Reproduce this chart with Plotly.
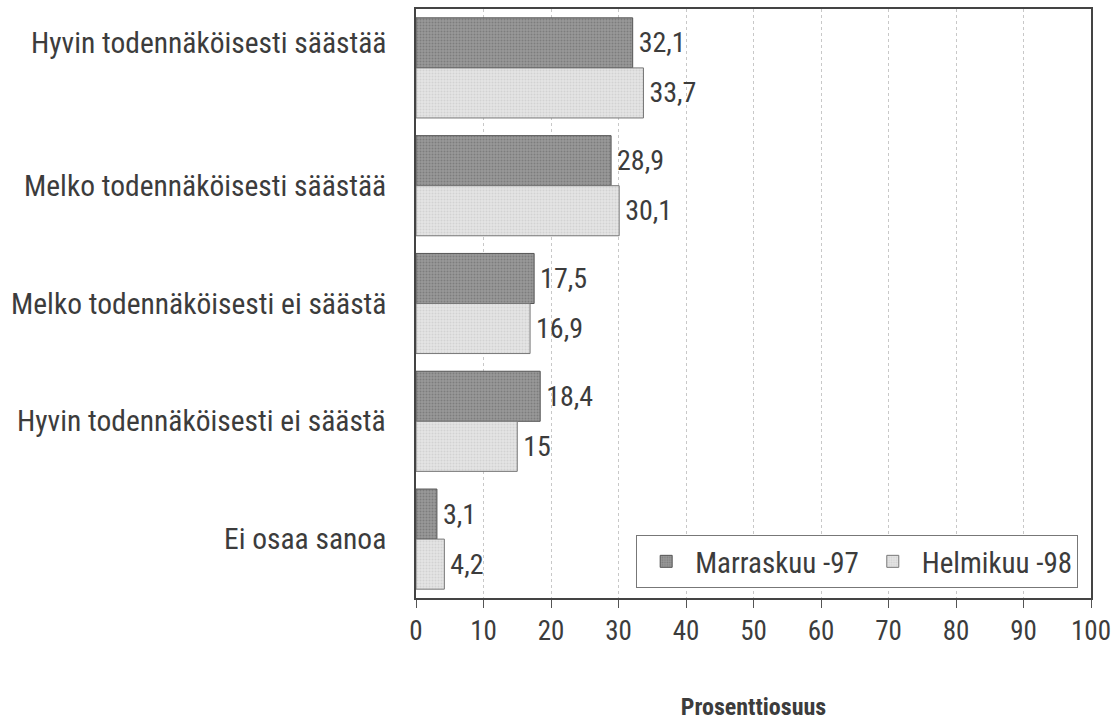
import plotly.graph_objects as go

# Survey answers (top to bottom) and shares in percent
categories = [
    "Hyvin todennäköisesti säästää",
    "Melko todennäköisesti säästää",
    "Melko todennäköisesti ei säästä",
    "Hyvin todennäköisesti ei säästä",
    "Ei osaa sanoa",
]
marraskuu_97 = [32.1, 28.9, 17.5, 18.4, 3.1]
helmikuu_98 = [33.7, 30.1, 16.9, 15.0, 4.2]
x_ticks = [0, 10, 20, 30, 40, 50, 60, 70, 80, 90, 100]

FONT = "Liberation Sans Narrow, Roboto Condensed, Arial Narrow, sans-serif"
TEXT = "#3c3c3c"


def fi_label(v):
    return "\u200a" + f"{v:g}".replace(".", ",")


fig = go.Figure()
fig.add_trace(go.Bar(
    name="Marraskuu -97",
    y=categories, x=marraskuu_97, orientation="h",
    text=[fi_label(v) for v in marraskuu_97],
    textposition="outside", cliponaxis=False,
    textfont=dict(family=FONT, size=28, color=TEXT),
    marker=dict(
        color="#939393",
        line=dict(color="#555555", width=1),
        pattern=dict(shape=".", fgcolor="#626262", bgcolor="#999999",
                     size=3, solidity=0.35),
    ),
))
fig.add_trace(go.Bar(
    name="Helmikuu -98",
    y=categories, x=helmikuu_98, orientation="h",
    text=[fi_label(v) for v in helmikuu_98],
    textposition="outside", cliponaxis=False,
    textfont=dict(family=FONT, size=28, color=TEXT),
    marker=dict(
        color="#dddddd",
        line=dict(color="#777777", width=1),
        pattern=dict(shape=".", fgcolor="#c0c0c0", bgcolor="#e4e4e4",
                     size=3, solidity=0.35),
    ),
))

# Category labels to the left of the plot frame
label_shift = [25, 0, 0, 0, 0]
for cat, dy in zip(categories, label_shift):
    fig.add_annotation(
        x=0, xref="paper", y=cat, yref="y",
        xanchor="right", yanchor="middle", xshift=-28, yshift=dy,
        text=cat, showarrow=False,
        font=dict(family=FONT, size=29.5, color=TEXT),
    )

fig.update_layout(
    width=1118, height=725,
    margin=dict(l=416, r=25, t=7, b=127),
    paper_bgcolor="white", plot_bgcolor="white",
    barmode="group", bargap=0.15, bargroupgap=0,
    font=dict(family=FONT, color=TEXT),
    showlegend=True,
    legend=dict(
        orientation="h",
        x=0.981, y=0.017, xanchor="right", yanchor="bottom",
        bgcolor="white", bordercolor="#777777", borderwidth=1,
        font=dict(family=FONT, size=29, color=TEXT),
        traceorder="normal", itemwidth=48,
    ),
    xaxis=dict(
        range=[0, 100], tickvals=x_ticks,
        ticks="outside", ticklen=8, tickcolor="#555555",
        tickfont=dict(family=FONT, size=27, color=TEXT),
        showgrid=True, gridcolor="#c8c8c8", griddash="dot", gridwidth=1,
        showline=True, linecolor="#444444", linewidth=2, mirror=True,
        zeroline=False,
        title=dict(text="<b>Prosenttiosuus</b>", standoff=52,
                   font=dict(family=FONT, size=24, color=TEXT)),
    ),
    yaxis=dict(
        categoryorder="array", categoryarray=categories,
        autorange="reversed",
        showline=True, linecolor="#444444", linewidth=2, mirror=True,
        ticks="", showticklabels=False,
        showgrid=False,
    ),
)

fig.write_html("out.html")
